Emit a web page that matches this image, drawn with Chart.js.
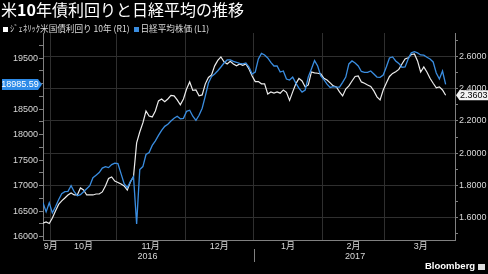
<!DOCTYPE html>
<html><head><meta charset="utf-8">
<script src="https://cdn.jsdelivr.net/npm/chart.js@4/dist/chart.umd.min.js"></script>
<style>
html,body{margin:0;padding:0;background:#000;width:488px;height:274px;overflow:hidden;}
#wrap{position:relative;width:488px;height:274px;}
#c{position:absolute;left:0;top:0;}
#title{position:absolute;left:1px;top:-3px;color:#fff;font-family:"Noto Sans CJK JP";font-size:16px;white-space:nowrap;}
#title b{font-weight:700;}
#legend{position:absolute;left:3px;top:22px;font-family:"Noto Sans CJK JP";font-size:8.6px;color:#ddd;white-space:nowrap;line-height:12px;}
.sw{display:inline-block;width:5px;height:5px;margin-right:2px;vertical-align:0px;}
#logo{position:absolute;left:425px;top:260px;font-family:"Liberation Sans";font-weight:700;font-size:9.5px;color:#fff;white-space:nowrap;}
#logo i{display:inline-block;width:7px;height:6px;background:#ddd;margin-left:3px;vertical-align:-1px;}
</style></head>
<body><div id="wrap">
<canvas id="c" width="488" height="274"></canvas>
<div id="title">米<b>10</b>年債利回りと日経平均の推移</div>
<div id="legend"><span class="sw" style="background:#fff"></span>ｼﾞｪﾈﾘｯｸ米国債利回り 10年 (R1)&nbsp;&nbsp;<span class="sw" style="background:#3a8de0"></span>日経平均株価 (L1)</div>
<div id="logo">Bloomberg<i></i></div>
</div>
<script>
// ---- data ----
const startDate = '2016-09-28';
const endDate = '2017-03-31';
// US generic 10Y yield (right axis), one value per weekday from startDate
const yieldSeries = [1.564,1.571,1.561,1.596,1.639,1.680,1.702,1.720,1.739,1.751,
 1.739,1.739,1.783,1.770,1.739,1.739,1.739,1.745,1.745,1.758,
 1.795,1.842,1.851,1.826,1.817,1.807,1.795,1.770,1.820,1.854,
 2.063,2.131,2.188,2.262,2.231,2.225,2.262,2.325,2.337,2.320,
 2.337,2.359,2.356,2.331,2.300,2.337,2.399,2.443,2.390,2.393,
 2.356,2.362,2.431,2.471,2.487,2.543,2.577,2.599,2.568,2.555,
 2.571,2.555,2.543,2.555,2.546,2.555,2.524,2.480,2.445,2.445,
 2.431,2.431,2.368,2.381,2.374,2.381,2.373,2.393,2.378,2.328,
 2.381,2.431,2.465,2.449,2.412,2.424,2.505,2.499,2.497,2.493,
 2.466,2.455,2.437,2.418,2.412,2.381,2.356,2.399,2.418,2.449,
 2.477,2.480,2.443,2.435,2.424,2.415,2.387,2.350,2.331,2.393,
 2.437,2.477,2.496,2.507,2.521,2.555,2.586,2.593,2.614,2.617,
 2.574,2.505,2.536,2.505,2.466,2.435,2.406,2.412,2.393,2.3603];
// Nikkei 225 (left axis)
const nikkeiSeries = [16665,16487,16665,16468,16586,16724,16842,16882,16888,17000,
 16882,16803,16823,16882,16941,17000,17158,17207,17257,17346,
 17375,17355,17415,17444,17434,17237,17040,16961,17079,17178,
 16251,17316,17375,17612,17651,17790,17878,17987,18085,18164,
 18204,18269,18322,18362,18312,18322,18460,18480,18362,18283,
 18381,18520,18756,19013,19141,19190,19255,19328,19407,19467,
 19467,19437,19421,19398,19388,19407,19328,19190,19230,19486,
 19595,19565,19506,19417,19348,19348,19230,19250,19092,19072,
 19131,19013,18914,18835,18875,19131,19289,19453,19348,19151,
 19082,18993,18928,18944,18934,18934,19027,19131,19388,19447,
 19407,19348,19240,19224,19224,19250,19190,19131,19125,19171,
 19328,19506,19526,19447,19398,19323,19328,19486,19605,19628,
 19605,19565,19561,19520,19486,19427,19210,19092,19250,18985.59];
const leftRange = [15935, 19995];
const rightRange = [1.4586, 2.7477];
const leftStep = 250, leftLabelStep = 500;
const rightStep = 0.1, rightLabelStep = 0.2;

// ---- categories: weekdays ----
function weekdays(a, b) {
  const out = []; let d = new Date(a + 'T00:00:00Z'); const e = new Date(b + 'T00:00:00Z');
  while (d <= e) { const w = d.getUTCDay(); if (w !== 0 && w !== 6) out.push(new Date(d)); d = new Date(d.getTime() + 86400000); }
  return out;
}
const days = weekdays(startDate, endDate);
function groups(keyFn, labelFn) {
  const g = [];
  days.forEach((d, i) => {
    const k = keyFn(d);
    if (!g.length || g[g.length - 1].key !== k) g.push({ key: k, label: labelFn(d), first: i, last: i });
    else g[g.length - 1].last = i;
  });
  return g;
}
const months = groups(d => d.getUTCFullYear() * 12 + d.getUTCMonth(), d => (d.getUTCMonth() + 1) + '月');
const years = groups(d => d.getUTCFullYear(), d => String(d.getUTCFullYear()));
const xTickMap = new Map();
months.forEach((m, i) => {
  if (i > 0) { const v = m.first - 0.5; xTickMap.set(v, Object.assign(xTickMap.get(v) || {}, { grid: true })); }
  const span = m.last - m.first + 1;
  const pos = span < 6 ? m.last + 0.5 : (m.first + m.last) / 2;
  xTickMap.set(pos, Object.assign(xTickMap.get(pos) || {}, { label: m.label }));
});
const yearBoundary = years.slice(1).map(y => y.first - 0.5);
const yearMap = new Map(years.map(y => [(y.first + y.last) / 2, y.label]));

function stepTicks(min, max, step) {
  const out = [];
  for (let k = Math.ceil(min / step - 1e-9); k <= Math.floor(max / step + 1e-9); k++) out.push({ value: +(k * step).toFixed(6) });
  return out;
}
const isMultiple = (v, m) => { const r = v / m; return Math.abs(r - Math.round(r)) < 1e-6; };

const gridColor = '#2f2f2f', axisColor = '#808080', labelColor = '#d8d8d8';
const tickFont = { family: '"Liberation Sans", "Noto Sans CJK JP"', size: 9 };

const annot = {
  id: 'annot',
  afterDraw(chart) {
    const c = chart.ctx, a = chart.chartArea, xs = chart.scales.x, x2 = chart.scales.x2;
    c.save();
    c.strokeStyle = axisColor; c.lineWidth = 1;
    yearBoundary.forEach(v => {
      const px = Math.round(xs.getPixelForValue(v)) + 0.5;
      c.beginPath(); c.moveTo(px, xs.bottom - 2); c.lineTo(px, x2.bottom - 1); c.stroke();
    });
    c.font = '9px "Liberation Sans"'; c.textBaseline = 'middle'; c.textAlign = 'center';
    const lv = nikkeiSeries[nikkeiSeries.length - 1];
    let py = chart.scales.y.getPixelForValue(lv);
    const lr = a.left - 1;
    c.fillStyle = '#2e8be8';
    c.beginPath(); c.moveTo(2, py - 5.5); c.lineTo(lr - 4, py - 5.5); c.lineTo(lr, py); c.lineTo(lr - 4, py + 5.5); c.lineTo(2, py + 5.5); c.closePath(); c.fill();
    c.fillStyle = '#fff'; c.fillText(lv.toFixed(2), (2 + lr - 4) / 2, py + 0.5);
    const rv = yieldSeries[yieldSeries.length - 1];
    py = chart.scales.y1.getPixelForValue(rv);
    const rl = a.right + 1;
    c.fillStyle = '#f2f2f2';
    c.beginPath(); c.moveTo(rl, py); c.lineTo(rl + 3.5, py - 5); c.lineTo(488, py - 5); c.lineTo(488, py + 5); c.lineTo(rl + 3.5, py + 5); c.closePath(); c.fill();
    c.fillStyle = '#000'; c.fillText(rv.toFixed(4), (rl + 3.5 + 488) / 2, py + 0.5);
    c.restore();
  }
};

new Chart(document.getElementById('c'), {
  type: 'line',
  data: {
    datasets: [
      { label: '日経平均株価 (L1)', data: nikkeiSeries.map((v, i) => ({ x: i, y: v })), xAxisID: 'x', yAxisID: 'y',
        borderColor: '#3a8de0', borderWidth: 1.3, pointRadius: 0, tension: 0, fill: false },
      { label: 'ｼﾞｪﾈﾘｯｸ米国債利回り 10年 (R1)', data: yieldSeries.map((v, i) => ({ x: i, y: v })), xAxisID: 'x', yAxisID: 'y1',
        borderColor: '#ececec', borderWidth: 1.2, pointRadius: 0, tension: 0, fill: false }
    ]
  },
  options: {
    responsive: false, animation: false, devicePixelRatio: 1,
    layout: { padding: { top: 33, left: 0, right: 0, bottom: 11 } },
    plugins: { legend: { display: false }, title: { display: false }, tooltip: { enabled: false } },
    scales: {
      x: {
        type: 'linear', position: 'bottom', weight: 0, min: 0, max: days.length - 1,
        afterBuildTicks: s => { s.ticks = [...xTickMap.keys()].sort((p, q) => p - q).map(v => ({ value: v })); },
        ticks: { autoSkip: false, maxRotation: 0, minRotation: 0, padding: 1, color: labelColor, font: tickFont,
          callback: v => (xTickMap.get(v) || {}).label || '' },
        grid: { drawTicks: false, color: ctx => (ctx.tick && (xTickMap.get(ctx.tick.value) || {}).grid) ? gridColor : 'rgba(0,0,0,0)' },
        border: { display: true, color: axisColor },
        afterFit: s => { s.height = 11; }
      },
      x2: {
        type: 'linear', position: 'bottom', weight: 1, min: 0, max: days.length - 1,
        afterBuildTicks: s => { s.ticks = [...yearMap.keys()].map(v => ({ value: v })); },
        ticks: { autoSkip: false, maxRotation: 0, minRotation: 0, padding: 0, color: labelColor, font: tickFont,
          callback: v => yearMap.get(v) || '' },
        grid: { display: false, drawTicks: false }, border: { display: false },
        afterFit: s => { s.height = 12; }
      },
      y: {
        position: 'left', min: leftRange[0], max: leftRange[1],
        afterBuildTicks: s => { s.ticks = stepTicks(leftRange[0], leftRange[1], leftStep); },
        ticks: { autoSkip: false, padding: 1, color: labelColor, font: tickFont,
          callback: v => (isMultiple(v, leftLabelStep) ? String(v) : '') },
        grid: { drawOnChartArea: false, drawTicks: true, tickLength: 4, color: axisColor },
        border: { display: true, color: axisColor },
        afterFit: s => { s.width = 43; }
      },
      y1: {
        position: 'right', min: rightRange[0], max: rightRange[1],
        afterBuildTicks: s => { s.ticks = stepTicks(rightRange[0], rightRange[1], rightStep); },
        ticks: { autoSkip: false, padding: 1, color: labelColor, font: tickFont,
          callback: v => (isMultiple(v, rightLabelStep) ? v.toFixed(4) : '') },
        grid: { drawOnChartArea: true, drawTicks: true, tickLength: 3, tickColor: axisColor,
          color: ctx => (ctx.tick && isMultiple(ctx.tick.value, rightLabelStep)) ? gridColor : 'rgba(0,0,0,0)' },
        border: { display: true, color: axisColor },
        afterFit: s => { s.width = 33; }
      }
    }
  },
  plugins: [annot]
});
</script>
</body></html>
